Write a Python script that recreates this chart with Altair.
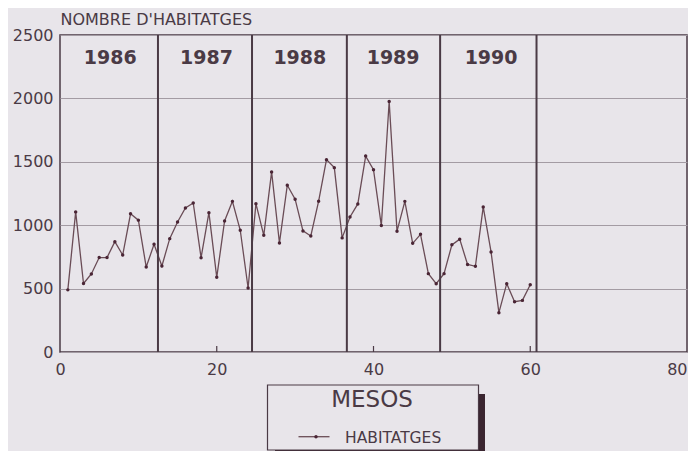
import altair as alt
import pandas as pd

# ---------------- data ----------------
months = list(range(1, 61))
habitatges = [490, 1105, 540, 615, 745, 745, 870, 765, 1090, 1040, 670, 850,
              678, 894, 1025, 1136, 1175, 744, 1099, 589, 1033, 1188, 960, 505,
              1170, 920, 1420, 860, 1315, 1205, 955, 915, 1189, 1517, 1454, 900,
              1065, 1168, 1545, 1438, 997, 1975, 953, 1188, 857, 928, 618, 539,
              618, 845, 890, 690, 676, 1144, 789, 310, 539, 397, 407, 531]
year_labels = ["1986", "1987", "1988", "1989", "1990"]
year_centers = [6.4, 18.7, 30.6, 42.5, 55.0]
year_label_level = [2320] * 5
separators = [12.5, 24.5, 36.6, 48.5, 60.8]
x_ticks = [0, 20, 40, 60, 80]
y_ticks = [0, 500, 1000, 1500, 2000, 2500]
inner_ticks = [20, 40, 60]
series_name = "HABITATGES"
x_title = "MESOS"
y_title = "NOMBRE D'HABITATGES"

# ---------------- styling ----------------
W, H = 627, 317
BG = "#e8e5ea"
INK = "#4a3a45"
LINE = "#6a4c56"
DOT = "#4a2535"
GRID = "#a39ba3"
SHADOW = "#3a2530"
FONT = "DejaVu Sans"

df = pd.DataFrame({"mes": months, "habitatges": habitatges})
years_df = pd.DataFrame({"any": year_labels, "x": year_centers, "y": year_label_level})
sep_df = pd.DataFrame({"x": separators})
tick_df = pd.DataFrame({"x": inner_ticks})
one = pd.DataFrame({"k": [0]})

xs = alt.Scale(domain=[0, 80], nice=False, zero=False)
ys = alt.Scale(domain=[0, 2500], nice=False)

x_axis = alt.Axis(
    values=x_ticks, grid=False, ticks=False, domain=False, format="d",
    labelFontSize=16, labelColor=INK, labelFont=FONT, labelPadding=9,
    labelAlign={"condition": {"test": "datum.value == 80", "value": "right"}, "value": "center"},
    title=None,
)
y_axis = alt.Axis(
    values=y_ticks, grid=True, gridColor=GRID, gridWidth=1, ticks=False, domain=False,
    format="d",
    labelFontSize=16, labelColor=INK, labelFont=FONT, labelPadding=7,
    title=y_title, titleAngle=0, titleAlign="left", titleBaseline="alphabetic",
    titleX=0, titleY=-11, titleFontSize=16, titleFontWeight="normal",
    titleColor=INK, titleFont=FONT,
)

line = alt.Chart(df).mark_line(color=LINE, strokeWidth=1.3).encode(
    x=alt.X("mes:Q", scale=xs, axis=x_axis),
    y=alt.Y("habitatges:Q", scale=ys, axis=y_axis),
)
points = alt.Chart(df).mark_circle(color=DOT, size=12, opacity=1).encode(
    x=alt.X("mes:Q", scale=xs),
    y=alt.Y("habitatges:Q", scale=ys),
)
seps = alt.Chart(sep_df).mark_rule(color=INK, strokeWidth=2).encode(
    x=alt.X("x:Q", scale=xs),
    y=alt.value(0), y2=alt.value(H),
)
ticks_in = alt.Chart(tick_df).mark_rule(color=INK, strokeWidth=1.2).encode(
    x=alt.X("x:Q", scale=xs),
    y=alt.value(H), y2=alt.value(H - 6),
)
years = alt.Chart(years_df).mark_text(
    font=FONT, fontSize=19, fontWeight="bold", color=INK, baseline="middle", align="center"
).encode(
    x=alt.X("x:Q", scale=xs),
    y=alt.Y("y:Q", scale=ys),
    text="any:N",
)

# legend box (drawn as in the original: box with drop shadow)
shadow = alt.Chart(one).mark_rect(color=SHADOW).encode(
    x=alt.value(215), x2=alt.value(425), y=alt.value(359), y2=alt.value(420)
)
box = alt.Chart(one).mark_rect(fill=BG, stroke=INK, strokeWidth=1.2).encode(
    x=alt.value(207.5), x2=alt.value(418.5), y=alt.value(350), y2=alt.value(415)
)
mesos = alt.Chart(one).mark_text(
    font=FONT, fontSize=23, color=INK, align="center", baseline="middle"
).encode(x=alt.value(312), y=alt.value(365), text=alt.value(x_title))
leg_line = alt.Chart(one).mark_rule(color=LINE, strokeWidth=1.3).encode(
    x=alt.value(238.5), x2=alt.value(269.5), y=alt.value(401.7)
)
leg_dot = alt.Chart(one).mark_circle(color=DOT, size=12, opacity=1).encode(
    x=alt.value(256), y=alt.value(401.7)
)
leg_text = alt.Chart(one).mark_text(
    font=FONT, fontSize=15.5, color=INK, align="left", baseline="middle"
).encode(x=alt.value(285), y=alt.value(402.5), text=alt.value(series_name))

chart = alt.layer(
    line, seps, points, ticks_in, years, shadow, box, mesos, leg_line, leg_dot, leg_text
).properties(
    width=W, height=H,
    autosize=alt.AutoSizeParams(type="none"),
    padding={"left": 52, "top": 27, "right": 1, "bottom": 99},
    background=BG,
).configure_view(
    stroke=INK, strokeWidth=1.5
)

chart.save("out.html", embed_options={"renderer": "svg", "actions": False})
